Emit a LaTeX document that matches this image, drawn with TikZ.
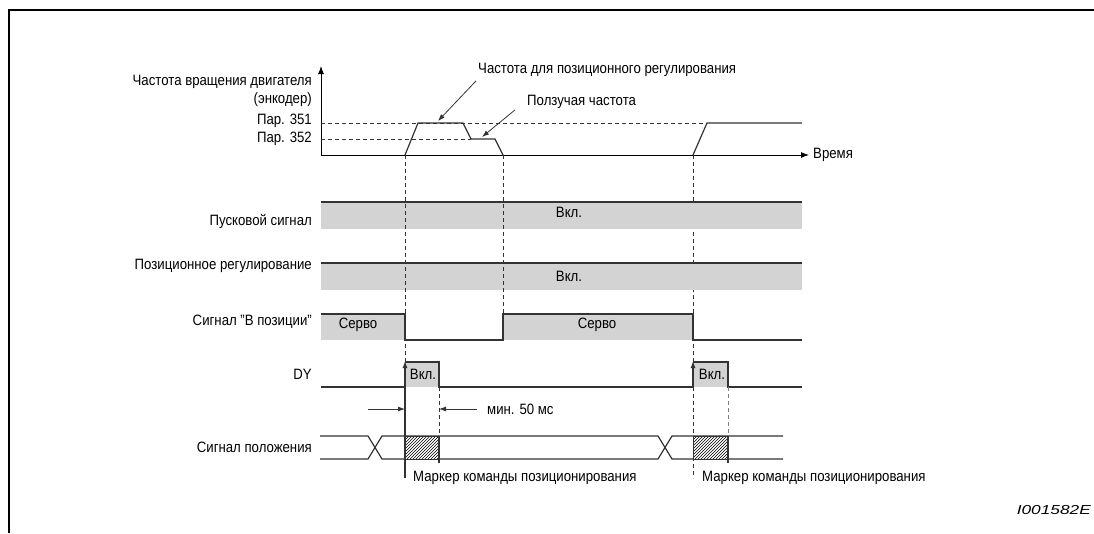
\documentclass[tikz,border=0pt]{standalone}
\usepackage{fontspec}
\setmainfont{Liberation Sans}[FakeStretch=0.88]
\newfontfamily\codefont{Liberation Sans}[FakeStretch=1.33]
\usepackage{tikz}
\usetikzlibrary{arrows.meta, patterns, positioning}
\definecolor{bandgray}{HTML}{D3D3D3}
\definecolor{sigdark}{HTML}{333333}
\tikzset{
  % Text labels
  lbl/.style={inner sep=0pt, font=\fontsize{15}{17}\selectfont},
  % Signal lines
  sigline/.style={draw=sigdark, line width=1.2pt, line join=miter},
  % Active (high) levels
  sigband/.style={fill=bandgray, draw=none},
  % Time guide lines
  guide/.style={draw=#1, line width=0.9pt, dash pattern=on 4pt off 3pt},
  guide/.default={sigdark},
  % Arrows
  myarrow/.style={-{Latex[length=7pt, width=5pt]}, line width=0.8pt, draw=sigdark},
  axisarrow/.style={-{Latex[length=8pt, width=6pt]}, line width=1pt, draw=black},
  % Hatched marker
  hatchbox/.style={pattern=north east lines, draw=sigdark, line width=1pt},
}

\begin{document}
\begin{tikzpicture}[x=1pt, y=-1pt]
  \useasboundingbox (0,0) rectangle (1094,533);

  % Frame
  \draw[line width=2.5pt] (9,533) -- (9,10) -- (1094,10);

  % Speed axis
  \coordinate (orig) at (321,155);
  \coordinate (ytip) at (321,66);
  \coordinate (xtip) at (809,155);
  \draw[axisarrow] (orig) -- (ytip);
  \draw[axisarrow] (orig) -- (xtip);
  \node[lbl, anchor=west, right=4pt of xtip] (time) {Время};

  \node[lbl, anchor=east] (freqlbl) at (312,82) {Частота вращения двигателя};
  \node[lbl, anchor=east] (enclbl) at (312,100) {(энкодер)};
  \node[lbl, anchor=east] (p351) at (312,121) {Пар. 351};
  \node[lbl, anchor=east] (p352) at (312,139) {Пар. 352};

  % Speed levels
  \draw[guide] (321,123) -- (707,123);
  \draw[guide] (321,139) -- (471,139);
  \draw[sigline] (405,155) -- (418,123) -- (463,123) -- (471,139)
    -- (495,139) -- (503,155);
  \draw[sigline] (693,155) -- (707,123) -- (802,123);

  % Annotations
  \node[lbl, anchor=west] (posfreq) at (478,70)
    {Частота для позиционного регулирования};
  \coordinate (posfreqend) at (438,121);
  \draw[myarrow] ([xshift=-2pt, yshift=-4pt]posfreq.south west) -- (posfreqend);
  \node[lbl, anchor=west] (creep) at (527,102) {Ползучая частота};
  \coordinate (creepend) at (482,137);
  \draw[myarrow] ([xshift=-12pt, yshift=-1pt]creep.south west) -- (creepend);

  % Guide lines behind the bands
  \draw[guide] (693,155) -- (693,362);

  % Start signal
  \node[lbl, anchor=east] (startlbl) at (312,221) {Пусковой сигнал};
  \fill[sigband] (321,202) rectangle (802,229);
  \draw[sigline] (321,202) -- (802,202);
  \node[lbl] (starton) at (569,212) {Вкл.};

  % Position control
  \node[lbl, anchor=east] (poslbl) at (312,266) {Позиционное регулирование};
  \fill[sigband] (321,263) rectangle (802,290);
  \draw[sigline] (321,263) -- (802,263);
  \node[lbl] (poson) at (569,276) {Вкл.};

  % In-position signal
  \node[lbl, anchor=east] (inposlbl) at (312,322) {Сигнал "В позиции"};
  \fill[sigband] (321,314) rectangle (405,340);
  \fill[sigband] (503,314) rectangle (693,340);
  \draw[sigline] (321,314) -- (405,314) -- (405,340) -- (503,340)
    -- (503,314) -- (693,314) -- (693,340) -- (802,340);
  \node[lbl] (servo1) at (358,325) {Серво};
  \node[lbl] (servo2) at (597,325) {Серво};

  % DY
  \node[lbl, anchor=east] (dylbl) at (312,374) {DY};
  \fill[sigband] (405,362) rectangle (439,387);
  \fill[sigband] (693,362) rectangle (728,387);
  \draw[sigline] (321,387) -- (405,387);
  \draw[sigline] (405,362) -- (439,362) -- (439,387) -- (693,387);
  \draw[sigline] (693,362) -- (728,362) -- (728,387) -- (802,387);
  \draw[myarrow, line width=1.2pt] (405,388) -- (405,361);
  \draw[myarrow, line width=1.2pt] (693,388) -- (693,361);
  \node[lbl] (dyon1) at (423,374) {Вкл.};
  \node[lbl] (dyon2) at (712,374) {Вкл.};

  % Guide lines
  \draw[guide] (405,155) -- (405,362);
  \draw[guide] (503,155) -- (503,314);
  \draw[guide] (439,387) -- (439,436);
  \draw[guide=gray] (728,387) -- (728,436);
  \draw[guide] (693,387) -- (693,478);
  \draw[sigline] (405,387) -- (405,478);

  % Minimum time
  \coordinate (minl) at (368,409);
  \coordinate (minr) at (477,409);
  \draw[myarrow] (minl) -- (405,409);
  \draw[myarrow] (minr) -- (439,409);
  \node[lbl, anchor=west] (mintime) at (487,409) {мин. 50 мс};

  % Position signal
  \node[lbl, anchor=east] (pos2lbl) at (312,447) {Сигнал положения};
  \draw[sigline] (320,436) -- (368,436) -- (382,459) -- (658,459)
    -- (672,436) -- (783,436);
  \draw[sigline] (320,459) -- (368,459) -- (382,436) -- (658,436)
    -- (672,459) -- (783,459);
  \filldraw[fill=white, draw=none] (405,436) rectangle (439,459);
  \filldraw[fill=white, draw=none] (693,436) rectangle (728,459);
  \path[hatchbox] (405,436) rectangle (439,459);
  \path[hatchbox] (693,436) rectangle (728,459);
  \draw[sigline] (439,436) -- (439,463);
  \draw[sigline] (728,436) -- (728,463);

  % Marker labels
  \node[lbl, anchor=west] (marker1) at (413,478) {Маркер команды позиционирования};
  \node[lbl, anchor=west] (marker2) at (702,478) {Маркер команды позиционирования};

  % Figure code
  \node[lbl, anchor=east, font=\codefont\itshape\fontsize{13}{15}\selectfont] (figcode)
    at (1091,510) {I001582E};
\end{tikzpicture}
\end{document}
